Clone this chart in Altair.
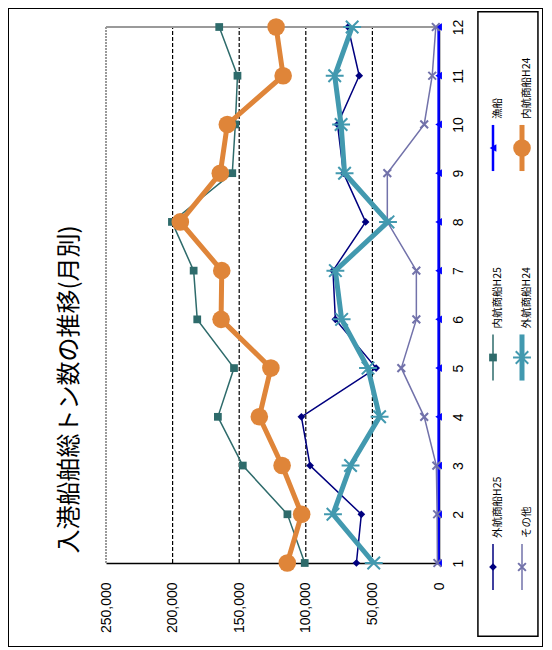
import altair as alt
import pandas as pd

# ---------------- data ----------------
months = list(range(1, 13))
gaiko_h25 = [62000, 58300, 96800, 103300, 47200, 77800, 79600, 55100, 71700, 76200, 59900, 68300]
naiko_h25 = [100800, 113800, 147300, 166000, 153900, 181500, 184200, 200500, 155200, 152900, 151300, 165000]
gyosen = [300, 300, 300, 300, 300, 300, 300, 300, 300, 300, 300, 300]
sonota = [1200, 1400, 2000, 11100, 28300, 17000, 17000, 38800, 38800, 11100, 5100, 2400]
gaiko_h24 = [49000, 79600, 66400, 44600, 53300, 73100, 77800, 38300, 70900, 73500, 78300, 65200]
naiko_h24 = [113900, 103100, 117800, 134900, 126200, 163600, 163100, 194200, 164200, 158900, 117000, 122300]

series_names = ["外航商船H25", "内航商船H25", "漁船", "その他", "外航商船H24", "内航商船H24"]
series_values = [gaiko_h25, naiko_h25, gyosen, sonota, gaiko_h24, naiko_h24]
series_colors = ["#00007F", "#2E6B6B", "#0000FF", "#7272AA", "#4299AF", "#DF8539"]
line_widths = [1.5, 1.5, 2.5, 1.5, 5, 5]
X_PATH = "M-1,-1L1,1M1,-1L-1,1"
STAR_PATH = "M-1,0L1,0M-0.7,-0.7L0.7,0.7M-0.7,0.7L0.7,-0.7"
marker_shapes = ["diamond", "square", "triangle-left", X_PATH, STAR_PATH, "circle"]
marker_sizes = [60, 60, 60, 60, 320, 310]
marker_filled = [True, True, True, False, False, True]
legend_col = [0, 0, 0, 1, 1, 1]
legend_row = [0, 1, 2, 0, 1, 2]

value_ticks = [0, 50000, 100000, 150000, 200000, 250000]
grid_values = [50000, 100000, 150000, 200000]
title_text = "入港船舶総トン数の推移(月別)"

# legend box extents in legend units
legend_box_x = [-0.52, 1.55]
legend_box_y = [-0.33, 2.65]

FONT = "Liberation Sans"
JFONT = "Noto Sans CJK JP"

# ---------------- scales / axes ----------------
W, H = 535, 639
xs = alt.Scale(domain=[0, 250000], range=[431, 98], nice=False, zero=False)
ys = alt.Scale(domain=[1, 12], range=[555, 19], nice=False, zero=False)

xaxis = alt.Axis(values=value_ticks, labelExpr="format(datum.value, ',')", labelAngle=270, labelAlign="right",
                 labelBaseline="middle", labelPadding=19, ticks=False, grid=False,
                 domainColor="black", domainWidth=1.5, offset=-84, title=None,
                 labelFont=FONT, labelFontSize=14, labelColor="black",
                 labelOverlap=False, labelFlush=False)
yaxis = alt.Axis(values=months, orient="right", labelAngle=270, labelAlign="center",
                 labelBaseline="top", labelPadding=12, ticks=False, grid=False,
                 domainColor="black", domainWidth=1.5, offset=-104, title=None,
                 labelFont=FONT, labelFontSize=14, labelColor="black",
                 labelOverlap=False, labelFlush=False)


def X(field):
    return alt.X(field, scale=xs, axis=xaxis)


def Y(field):
    return alt.Y(field, scale=ys, axis=yaxis)


layers = []

# grid lines
grid_df = pd.DataFrame({"value": grid_values, "m0": [1] * len(grid_values), "m1": [12] * len(grid_values)})
layers.append(alt.Chart(grid_df).mark_rule(color="black", strokeWidth=1.2, strokeDash=[4, 2]).encode(
    x=X("value:Q"), y=Y("m0:Q"), y2="m1:Q"))

# gray plot frame (left & top)
left_df = pd.DataFrame({"value": [value_ticks[-1]], "m0": [months[0]], "m1": [months[-1]]})
layers.append(alt.Chart(left_df).mark_rule(color="#9A9A9A", strokeWidth=2, strokeDash=[2, 1]).encode(
    x=X("value:Q"), y=Y("m0:Q"), y2="m1:Q"))
top_df = pd.DataFrame({"value": [value_ticks[0]], "v1": [value_ticks[-1]], "month": [months[-1]]})
layers.append(alt.Chart(top_df).mark_rule(color="#9A9A9A", strokeWidth=2).encode(
    x=X("value:Q"), x2="v1:Q", y=Y("month:Q")))

# series
for i, name in enumerate(series_names):
    df = pd.DataFrame({"month": months, "value": series_values[i]})
    base = alt.Chart(df).encode(x=X("value:Q"), y=Y("month:Q"), order=alt.Order("month:Q"))
    layers.append(base.mark_line(color=series_colors[i], strokeWidth=line_widths[i]))
    layers.append(base.mark_point(shape=marker_shapes[i], size=marker_sizes[i],
                                  filled=marker_filled[i], color=series_colors[i],
                                  opacity=1, strokeWidth=2 if not marker_filled[i] else 1))

main = alt.layer(*layers)

# ---------------- legend ----------------
lx = alt.Scale(domain=[0, 1], range=[485, 514], nice=False, zero=False)
ly = alt.Scale(domain=[0, 2], range=[559, 140], nice=False, zero=False)

leg_layers = []
box_df = pd.DataFrame({"x0": [legend_box_x[0]], "x1": [legend_box_x[1]],
                       "y0": [legend_box_y[0]], "y1": [legend_box_y[1]]})
leg_layers.append(alt.Chart(box_df).mark_rect(filled=False, color="black", strokeWidth=1.5).encode(
    x=alt.X("x0:Q", scale=lx, axis=None), x2="x1:Q",
    y=alt.Y("y0:Q", scale=ly, axis=None), y2="y1:Q"))

for i, name in enumerate(series_names):
    r = legend_row[i]
    ldf = pd.DataFrame({"col": [legend_col[i]], "row": [r], "r0": [r - 0.11], "r1": [r + 0.11], "name": [name]})
    lb = alt.Chart(ldf)
    leg_layers.append(lb.mark_rule(color=series_colors[i], strokeWidth=line_widths[i]).encode(
        x=alt.X("col:Q", scale=lx, axis=None), y=alt.Y("r0:Q", scale=ly, axis=None), y2="r1:Q"))
    leg_layers.append(lb.mark_point(shape=marker_shapes[i], size=marker_sizes[i],
                                    filled=marker_filled[i], color=series_colors[i],
                                    opacity=1, strokeWidth=2 if not marker_filled[i] else 1).encode(
        x=alt.X("col:Q", scale=lx, axis=None), y=alt.Y("row:Q", scale=ly, axis=None)))
    leg_layers.append(lb.mark_text(angle=270, align="left", baseline="middle", dx=29, dy=5,
                                   font=JFONT, fontSize=10.5, color="black").encode(
        x=alt.X("col:Q", scale=lx, axis=None), y=alt.Y("row:Q", scale=ly, axis=None), text="name:N"))

legend = alt.layer(*leg_layers)

chart = alt.layer(main, legend).resolve_scale(x="independent", y="independent").properties(
    width=W, height=H,
    padding=0,
    autosize=alt.AutoSizeParams(type="none"),
    background="white",
    title=alt.TitleParams(title_text, orient="left", anchor="middle", offset=-74, dx=-62,
                          font=JFONT, fontSize=24, fontWeight="normal", color="black", frame="group"),
).configure_view(stroke="black", strokeWidth=2)

chart.save("out.html", embed_options={"renderer": "svg", "actions": False})
